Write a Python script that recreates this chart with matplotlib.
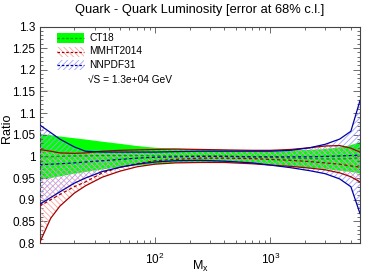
import math
import matplotlib
matplotlib.use("Agg")
import matplotlib.pyplot as plt
from matplotlib.patches import Rectangle
from matplotlib.lines import Line2D
from matplotlib.ticker import FixedLocator, FuncFormatter, NullFormatter

plt.rcParams['font.family'] = ['Liberation Sans', 'DejaVu Sans']
plt.rcParams['mathtext.fontset'] = 'custom'
plt.rcParams['mathtext.rm'] = 'Liberation Sans'
plt.rcParams['mathtext.it'] = 'Liberation Sans:italic'
plt.rcParams['hatch.linewidth'] = 0.6

# ---- data ----
mx = [10, 12.5, 15, 20, 25, 35, 50, 70, 100, 150, 250, 400, 700, 1000, 1500, 2200, 3000, 4000, 5000, 6000]

ct18_up = [1.052, 1.049, 1.046, 1.042, 1.039, 1.034, 1.029, 1.024, 1.020, 1.018, 1.016, 1.015, 1.014, 1.014, 1.014, 1.015, 1.017, 1.021, 1.026, 1.033]
ct18_lo = [0.946, 0.950, 0.954, 0.960, 0.964, 0.970, 0.975, 0.979, 0.982, 0.985, 0.987, 0.987, 0.984, 0.981, 0.977, 0.974, 0.971, 0.967, 0.964, 0.961]
ct18_c = [0.999, 0.999, 1.000, 1.001, 1.001, 1.002, 1.002, 1.002, 1.001, 1.001, 1.001, 1.001, 0.999, 0.998, 0.996, 0.995, 0.994, 0.994, 0.995, 0.997]

mmht_up = [1.016, 1.012, 1.008, 1.007, 1.008, 1.012, 1.014, 1.015, 1.016, 1.017, 1.016, 1.015, 1.014, 1.014, 1.016, 1.020, 1.024, 1.025, 1.019, 1.010]
mmht_lo = [0.800, 0.857, 0.885, 0.915, 0.932, 0.952, 0.966, 0.976, 0.982, 0.985, 0.986, 0.986, 0.983, 0.980, 0.977, 0.973, 0.969, 0.962, 0.953, 0.941]
mmht_c = [0.885, 0.900, 0.912, 0.930, 0.941, 0.962, 0.975, 0.983, 0.990, 0.993, 0.996, 0.996, 0.995, 0.993, 0.991, 0.988, 0.985, 0.982, 0.978, 0.975]

nnpdf_up = [1.073, 1.055, 1.040, 1.022, 1.012, 1.010, 1.010, 1.010, 1.010, 1.011, 1.012, 1.012, 1.012, 1.012, 1.014, 1.020, 1.028, 1.040, 1.058, 1.129]
nnpdf_lo = [0.889, 0.905, 0.918, 0.938, 0.950, 0.965, 0.975, 0.982, 0.987, 0.990, 0.991, 0.989, 0.985, 0.980, 0.974, 0.967, 0.960, 0.948, 0.930, 0.868]
nnpdf_c = [0.981, 0.982, 0.983, 0.985, 0.987, 0.990, 0.993, 0.996, 0.998, 0.999, 1.000, 1.000, 0.999, 0.999, 0.999, 0.999, 1.000, 1.001, 1.002, 1.003]

labels = ["CT18", "MMHT2014", "NNPDF31"]
sqrt_s_text = "\u221aS = 1.3e+04 GeV"
title = "Quark - Quark Luminosity [error at 68% c.l.]"
y_ticks = [0.8, 0.85, 0.9, 0.95, 1.0, 1.05, 1.1, 1.15, 1.2, 1.25, 1.3]
x_ticks = [100, 1000]

GREEN = '#00ff00'
GREEN_D = '#00a000'
RED_H = '#ffa0a0'
RED_L = '#a00000'
BLUE_H = '#a0a0ff'
BLUE_L = '#0000a8'
RED_HATCH = '\\' * 6
BLUE_HATCH = '/' * 6

fig = plt.figure(figsize=(3.74, 2.78), dpi=100)
ax = fig.add_axes([39.5/374, 35/278, 320.5/374, 216.5/278])

ax.fill_between(mx, ct18_lo, ct18_up, facecolor=GREEN, edgecolor='none', linewidth=0, zorder=1)
ax.fill_between(mx, mmht_lo, mmht_up, facecolor='none', edgecolor=RED_H, hatch=RED_HATCH, linewidth=0, zorder=2)
ax.fill_between(mx, nnpdf_lo, nnpdf_up, facecolor='none', edgecolor=BLUE_H, hatch=BLUE_HATCH, linewidth=0, zorder=3)

ax.plot(mx, ct18_c, color=GREEN_D, lw=0.9, ls=(0, (2.5, 2)), zorder=4)
for arr in (mmht_up, mmht_lo):
    ax.plot(mx, arr, color=RED_L, lw=0.9, zorder=5)
ax.plot(mx, mmht_c, color=RED_L, lw=0.9, ls=(0, (2.5, 2)), zorder=5)
for arr in (nnpdf_up, nnpdf_lo):
    ax.plot(mx, arr, color=BLUE_L, lw=0.9, zorder=6)
ax.plot(mx, nnpdf_c, color=BLUE_L, lw=0.9, ls=(0, (2.5, 2)), zorder=6)

ax.set_xscale('log')
ax.set_xlim(10, 6000)
ax.set_ylim(0.8, 1.3)
ax.xaxis.set_major_locator(FixedLocator(x_ticks))
ax.xaxis.set_minor_locator(FixedLocator([v * d for d in (10, 100, 1000) for v in range(2, 10) if v * d < 6000]))
ax.xaxis.set_minor_formatter(NullFormatter())
ax.xaxis.set_major_formatter(FuncFormatter(lambda v, p: r'$\mathregular{10^{%d}}$' % round(math.log10(v))))
ax.yaxis.set_major_locator(FixedLocator(y_ticks))
ax.yaxis.set_minor_locator(FixedLocator([0.8 + 0.01 * i for i in range(51)]))
ax.yaxis.set_major_formatter(FuncFormatter(lambda v, p: '%g' % round(v, 2)))
ax.tick_params(which='both', direction='in', top=True, right=True, labelsize=8.5, width=0.6, colors='#555555', labelcolor='black')
ax.tick_params(which='major', axis='y', length=5)
ax.tick_params(which='minor', axis='y', length=2.5)
ax.tick_params(which='major', axis='x', length=4.5, pad=6)
ax.tick_params(which='minor', axis='x', length=2.5)
ax.tick_params(axis='y', pad=3)
for s in ax.spines.values():
    s.set_linewidth(0.8)
    s.set_color('#444444')

fig.text(200/374, 1 - 10/278, title, ha='center', va='center', fontsize=9.3)
fig.text(7/374, 1 - 128/278, 'Ratio', ha='center', va='center', rotation=90, fontsize=9)
fig.text(200/374, 1 - 266/278, r'M$_{\mathregular{x}}$', ha='center', va='center', fontsize=9)

# legend (manual, ROOT style)
def px2ax(px, py):
    return ((px - 39.5) / 320.5, (243 - py) / 216.5)

rows = [38, 51.5, 65]
styles = [
    dict(facecolor=GREEN, edgecolor='none', hatch=None, line=GREEN_D),
    dict(facecolor='none', edgecolor=RED_H, hatch=RED_HATCH, line=RED_L),
    dict(facecolor='none', edgecolor=BLUE_H, hatch=BLUE_HATCH, line=BLUE_L),
]
for lab, yc, st in zip(labels, rows, styles):
    x0, y0 = px2ax(57.3, yc + 5)
    x1, y1 = px2ax(84, yc - 5)
    r = Rectangle((x0, y0), x1 - x0, y1 - y0, transform=ax.transAxes, facecolor=st['facecolor'],
                  edgecolor=st['edgecolor'], hatch=st['hatch'], linewidth=0, zorder=10)
    ax.add_patch(r)
    _, ym = px2ax(0, yc)
    ax.add_line(Line2D([x0, x1], [ym, ym], transform=ax.transAxes, color=st['line'], lw=0.9,
                       ls=(0, (2, 1.5)), zorder=11))
    tx, ty = px2ax(89, yc)
    ax.text(tx, ty, lab, transform=ax.transAxes, fontsize=7.3, va='center', ha='left', zorder=12)
tx, ty = px2ax(88, 80)
ax.text(tx, ty, sqrt_s_text, transform=ax.transAxes, fontsize=7.3, va='center', ha='left', zorder=12)

fig.savefig('out.png', dpi=100)
